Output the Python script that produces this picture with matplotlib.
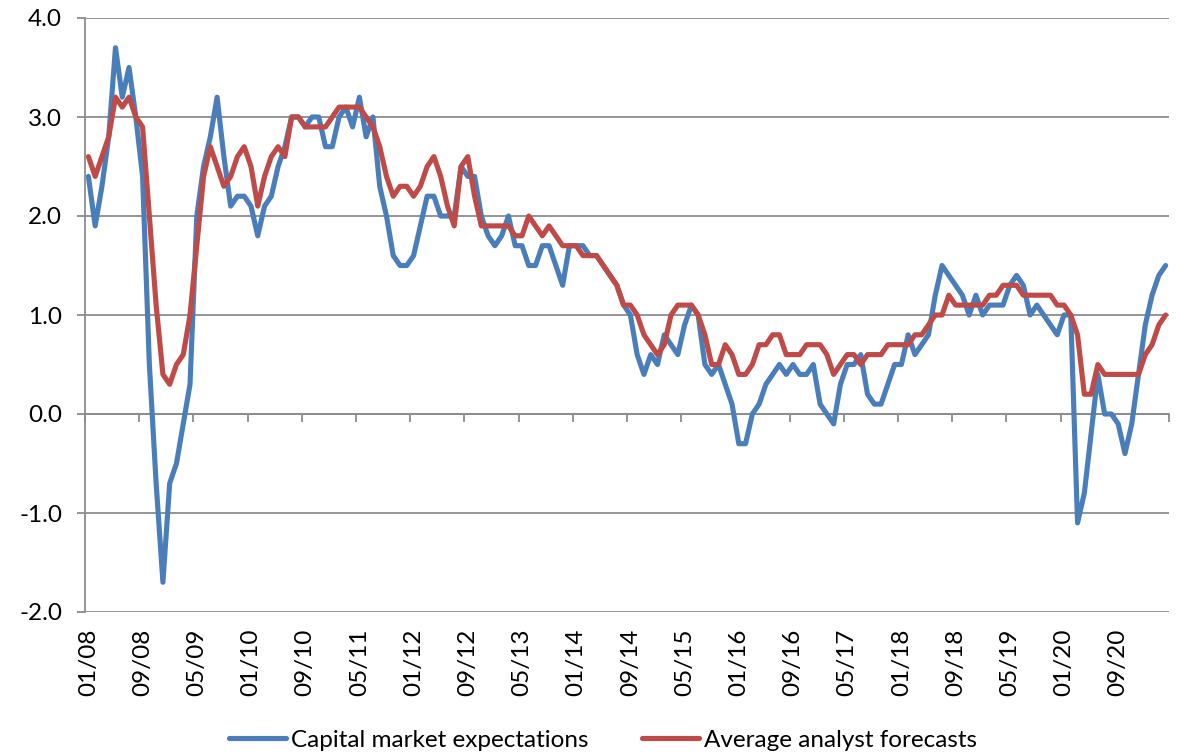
import matplotlib
matplotlib.use('Agg')
import matplotlib.pyplot as plt
import numpy as np
from matplotlib.ticker import FormatStrFormatter

# Monthly data, 01/2008 .. 04/2021
capital = [2.4, 1.9, 2.3, 2.8, 3.7, 3.2, 3.5, 3.0, 2.4, 0.5,
           -0.7, -1.7, -0.7, -0.5, -0.1, 0.3, 2.0, 2.5, 2.8, 3.2,
           2.6, 2.1, 2.2, 2.2, 2.1, 1.8, 2.1, 2.2, 2.5, 2.7,
           3.0, 3.0, 2.9, 3.0, 3.0, 2.7, 2.7, 3.0, 3.1, 2.9,
           3.2, 2.8, 3.0, 2.3, 2.0, 1.6, 1.5, 1.5, 1.6, 1.9,
           2.2, 2.2, 2.0, 2.0, 2.0, 2.5, 2.4, 2.4, 2.0, 1.8,
           1.7, 1.8, 2.0, 1.7, 1.7, 1.5, 1.5, 1.7, 1.7, 1.5,
           1.3, 1.7, 1.7, 1.7, 1.6, 1.6, 1.5, 1.4, 1.3, 1.1,
           1.0, 0.6, 0.4, 0.6, 0.5, 0.8, 0.7, 0.6, 0.9, 1.1,
           1.0, 0.5, 0.4, 0.5, 0.3, 0.1, -0.3, -0.3, 0.0, 0.1,
           0.3, 0.4, 0.5, 0.4, 0.5, 0.4, 0.4, 0.5, 0.1, 0.0,
           -0.1, 0.3, 0.5, 0.5, 0.6, 0.2, 0.1, 0.1, 0.3, 0.5,
           0.5, 0.8, 0.6, 0.7, 0.8, 1.2, 1.5, 1.4, 1.3, 1.2,
           1.0, 1.2, 1.0, 1.1, 1.1, 1.1, 1.3, 1.4, 1.3, 1.0,
           1.1, 1.0, 0.9, 0.8, 1.0, 1.0, -1.1, -0.8, -0.2, 0.4,
           0.0, 0.0, -0.1, -0.4, -0.1, 0.4, 0.9, 1.2, 1.4, 1.5]

analyst = [2.6, 2.4, 2.6, 2.8, 3.2, 3.1, 3.2, 3.0, 2.9, 2.0,
           1.1, 0.4, 0.3, 0.5, 0.6, 1.0, 1.7, 2.4, 2.7, 2.5,
           2.3, 2.4, 2.6, 2.7, 2.5, 2.1, 2.4, 2.6, 2.7, 2.6,
           3.0, 3.0, 2.9, 2.9, 2.9, 2.9, 3.0, 3.1, 3.1, 3.1,
           3.1, 3.0, 2.9, 2.7, 2.4, 2.2, 2.3, 2.3, 2.2, 2.3,
           2.5, 2.6, 2.4, 2.1, 1.9, 2.5, 2.6, 2.2, 1.9, 1.9,
           1.9, 1.9, 1.9, 1.8, 1.8, 2.0, 1.9, 1.8, 1.9, 1.8,
           1.7, 1.7, 1.7, 1.6, 1.6, 1.6, 1.5, 1.4, 1.3, 1.1,
           1.1, 1.0, 0.8, 0.7, 0.6, 0.7, 1.0, 1.1, 1.1, 1.1,
           1.0, 0.8, 0.5, 0.5, 0.7, 0.6, 0.4, 0.4, 0.5, 0.7,
           0.7, 0.8, 0.8, 0.6, 0.6, 0.6, 0.7, 0.7, 0.7, 0.6,
           0.4, 0.5, 0.6, 0.6, 0.5, 0.6, 0.6, 0.6, 0.7, 0.7,
           0.7, 0.7, 0.8, 0.8, 0.9, 1.0, 1.0, 1.2, 1.1, 1.1,
           1.1, 1.1, 1.1, 1.2, 1.2, 1.3, 1.3, 1.3, 1.2, 1.2,
           1.2, 1.2, 1.2, 1.1, 1.1, 1.0, 0.8, 0.2, 0.2, 0.5,
           0.4, 0.4, 0.4, 0.4, 0.4, 0.4, 0.6, 0.7, 0.9, 1.0]

start_year, start_month = 2008, 1
months = [f"{(start_month - 1 + i) % 12 + 1:02d}/{(start_year + (start_month - 1 + i) // 12) % 100:02d}"
          for i in range(len(capital))]
label_step = 8
series_names = ['Capital market expectations', 'Average analyst forecasts']
colors = ['#4A7EBB', '#BE4B48']

plt.rcParams['font.family'] = ['Lato', 'DejaVu Sans']
plt.rcParams['axes.unicode_minus'] = False

W, H = 1179, 755
fig = plt.figure(figsize=(W / 100, H / 100), dpi=100)
ax = fig.add_axes([85 / W, 1 - 612 / H, (1169 - 85) / W, (612 - 18) / H])

x = np.arange(len(capital))
ax.plot(x, capital, color=colors[0], lw=3.7, solid_joinstyle='round',
        solid_capstyle='round', label=series_names[0], zorder=3)
ax.plot(x, analyst, color=colors[1], lw=3.7, solid_joinstyle='round',
        solid_capstyle='round', label=series_names[1], zorder=4)

grid_c = '#8C8C8C'
ax.set_xlim(-0.5, len(x) - 0.5)
ax.set_ylim(-2, 4)
ax.set_yticks(np.arange(-2, 4.01, 1))
ax.yaxis.set_major_formatter(FormatStrFormatter('%.1f'))
ax.grid(axis='y', color=grid_c, lw=1.3)
ax.set_axisbelow(True)
for s in ['top', 'right']:
    ax.spines[s].set_visible(False)
ax.spines['left'].set_color(grid_c)
ax.spines['left'].set_linewidth(1.3)
ax.spines['bottom'].set_position(('data', 0))
ax.spines['bottom'].set_color(grid_c)
ax.spines['bottom'].set_linewidth(1.3)

fs = 17.5
ax.set_xticks(np.arange(-0.5, len(x), label_step))
ax.tick_params(axis='x', length=5.5, width=1.3, color=grid_c, labelbottom=False, direction='out')
ax.tick_params(axis='y', length=5.5, width=1.3, color=grid_c, labelsize=fs, pad=11)

sec = ax.secondary_xaxis(0)
idx = x[::label_step]
sec.set_xticks(idx, [months[i] for i in idx], rotation=90)
sec.tick_params(length=0, pad=12, labelsize=fs)
sec.spines['bottom'].set_visible(False)

fig.legend(loc='center', bbox_to_anchor=(603 / W, 15 / H), ncol=2, frameon=False,
           fontsize=fs, handlelength=2.35, handletextpad=0.2, columnspacing=2.2)

fig.savefig('out.png', dpi=100)
